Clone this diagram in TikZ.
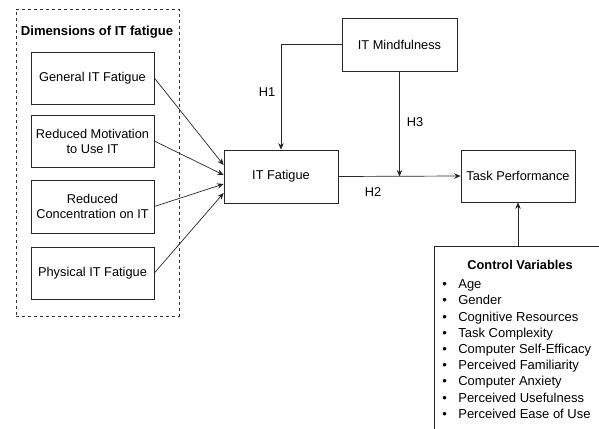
\documentclass[tikz,border=0pt]{standalone}
\usepackage{fontspec}
\setmainfont{Liberation Sans}
\usetikzlibrary{arrows.meta,calc}
\begin{document}
\begin{tikzpicture}[x=1pt,y=-1pt,
  line width=0.7pt,
  txt/.style={font=\fontsize{12.8}{15}\selectfont},
  box/.style={draw=black!85, txt, align=center, inner sep=0pt},
  arr/.style={draw=black!85, -{Stealth[length=6.5pt,width=5.5pt]}}]
\useasboundingbox (0,0) rectangle (599,428);
\clip (0,0) rectangle (599,428);
% dashed frame
\node[draw=black!80, dashed, line width=0.6pt, minimum width=163pt, minimum height=307pt, inner sep=0pt] (frame) at (97.5,162.5) {};
\node[font=\fontsize{13.1}{15}\selectfont\bfseries] (dimtitle) at (97,32) {Dimensions of IT fatigue};
% left boxes
\node[box, minimum width=123pt, minimum height=52pt] (gen) at (92.5,78) {General IT Fatigue};
\node[box, minimum width=123pt, minimum height=52pt] (mot) at (92.5,141) {Reduced Motivation\\to Use IT};
\node[box, minimum width=123pt, minimum height=53pt] (con) at (92.5,206.5) {Reduced\\Concentration on IT};
\node[box, minimum width=123pt, minimum height=52pt] (phy) at (92.5,273) {Physical IT Fatigue};
% main boxes
\node[box, minimum width=114pt, minimum height=53pt] (itf) at (281,176.5) {IT Fatigue};
\node[box, minimum width=115pt, minimum height=53pt] (mind) at (399.5,44.5) {IT Mindfulness};
\node[box, minimum width=114pt, minimum height=52pt] (tp) at (518,176) {Task Performance};
% control variables box (extends past the page)
\node[draw=black!85, minimum width=180pt, minimum height=200pt, inner sep=0pt, anchor=north west] (cv) at (434,246) {};
\node[font=\fontsize{12.8}{15}\selectfont\bfseries] (cvtitle) at (520,265) {Control Variables};
\node[anchor=north west, align=left, inner sep=0pt, font=\fontsize{13}{16.2}\selectfont] (cvlist) at (442,279.5)
  {\makebox[16pt][l]{\textbullet}Age\\
   \makebox[16pt][l]{\textbullet}Gender\\
   \makebox[16pt][l]{\textbullet}Cognitive Resources\\
   \makebox[16pt][l]{\textbullet}Task Complexity\\
   \makebox[16pt][l]{\textbullet}Computer Self-Efficacy\\
   \makebox[16pt][l]{\textbullet}Perceived Familiarity\\
   \makebox[16pt][l]{\textbullet}Computer Anxiety\\
   \makebox[16pt][l]{\textbullet}Perceived Usefulness\\
   \makebox[16pt][l]{\textbullet}Perceived Ease of Use};
% arrows from dimensions
\draw[arr] (gen.east) -- ($(itf.west)+(0,-11.5)$);
\draw[arr] (mot.east) -- ($(itf.west)+(0,-1.5)$);
\draw[arr] (con.east) -- ($(itf.west)+(0,7.5)$);
\draw[arr] (phy.east) -- ($(itf.west)+(0,16.5)$);
% H1
\draw[arr] (mind.west) -| (itf.north);
\node[txt] (h1) at (267,92) {H1};
% H2
\draw[arr] (itf.east) -- (tp.west);
\node[txt] (h2) at (373,192) {H2};
% H3
\coordinate (mod) at (mind.south |- itf.east);
\draw[arr] (mind.south) -- (mod);
\node[txt] (h3) at (415,122) {H3};
% control arrow
\draw[arr] (cv.north -| tp.south) -- (tp.south);
\end{tikzpicture}
\end{document}
